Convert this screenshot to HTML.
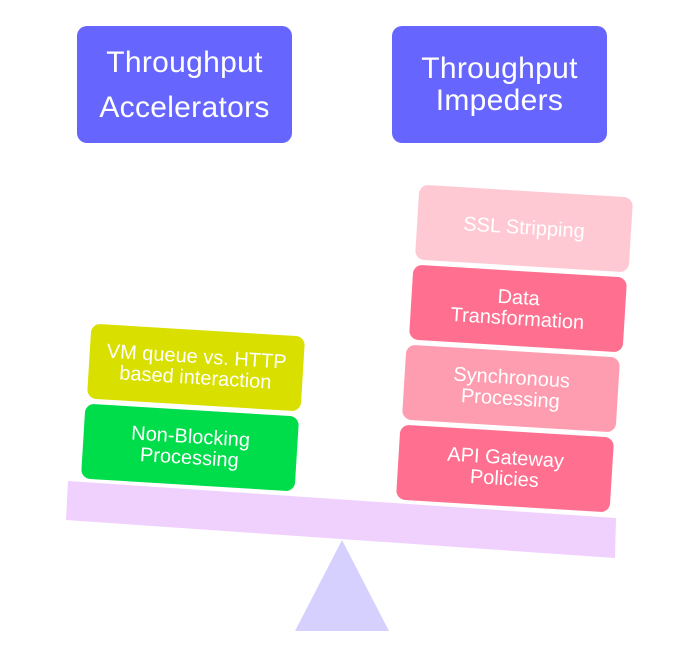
<!DOCTYPE html>
<html><head><style>
body{margin:0;width:699px;height:647px;background:#fff;position:relative;overflow:hidden;font-family:"Liberation Sans",sans-serif;}
.h{position:absolute;background:#6666ff;color:#fff;border-radius:10px;font-size:30px;text-align:center;display:flex;align-items:center;justify-content:center;letter-spacing:0.3px}
.b{position:absolute;width:214px;height:75px;border-radius:9px;color:#fff;font-size:20px;text-align:center;display:flex;align-items:center;justify-content:center;line-height:1.05;transform:rotate(3.5deg)}
</style></head><body>
<div class="h" style="left:77px;top:26px;width:215px;height:117px;line-height:45px">Throughput<br>Accelerators</div>
<div class="h" style="left:392px;top:26px;width:215px;height:117px;line-height:32px">Throughput<br>Impeders</div>
<svg style="position:absolute;left:0;top:0" width="699" height="647">
<polygon points="342,540 389,631 295,631" fill="#d6d0ff"/>
<polygon points="68,481 616,518 615,558 66,520" fill="#f0d0fd"/>
</svg>
<div class="b" style="left:89px;top:330px;background:#d9e000">VM queue vs. HTTP<br>based interaction</div>
<div class="b" style="left:83px;top:410px;background:#00dd4a">Non-Blocking<br>Processing</div>
<div class="b" style="left:417px;top:191px;background:#ffc9d4">SSL Stripping</div>
<div class="b" style="left:411px;top:271px;background:#ff6f8f">Data<br>Transformation</div>
<div class="b" style="left:404px;top:351px;background:#ff9db0">Synchronous<br>Processing</div>
<div class="b" style="left:398px;top:431px;background:#ff6f8f">API Gateway<br>Policies</div>
</body></html>
